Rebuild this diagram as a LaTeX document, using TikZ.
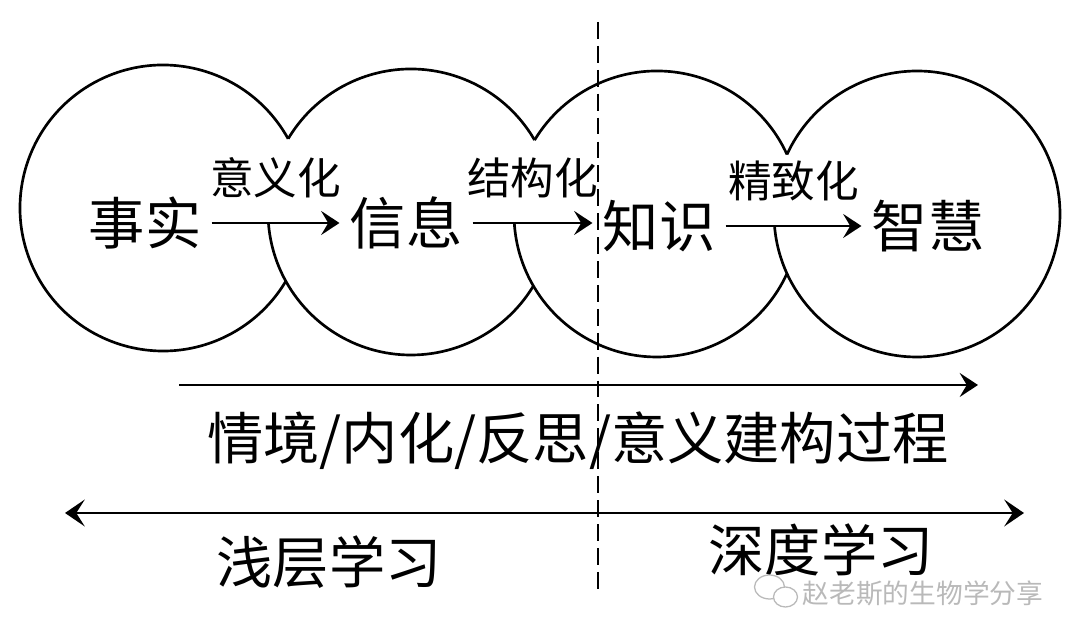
\documentclass[tikz,border=0pt]{standalone}
\usepackage{fontspec}
\setmainfont{Noto Sans CJK SC}
\usetikzlibrary{arrows.meta}

\begin{document}
\begin{tikzpicture}[x=0.025cm, y=0.025cm,
    stage/.style={inner xsep=0.25cm, inner ysep=0pt, font=\fontsize{40}{48}\selectfont},
    step label/.style={above=0.6cm, inner sep=0pt, font=\fontsize{31}{37}\selectfont},
    level text/.style={inner sep=0pt, font=\fontsize{40}{48}\selectfont},
    ring/.style={line width=1.9pt},
    flow/.style={-{Stealth[length=13pt, width=17pt, inset=5pt]}, line width=2pt},
    span/.style={{Stealth[length=14pt, width=19pt, inset=6pt]}-{Stealth[length=14pt, width=19pt, inset=6pt]}, line width=2pt},
    divider/.style={line width=1.7pt, dash pattern=on 12pt off 5pt},
    mark text/.style={inner sep=0pt, text=gray!55, font=\fontsize{19}{23}\selectfont}
]
\useasboundingbox (0,0) rectangle (1080,636);

% circle centres
\coordinate (c1) at (163,428);
\coordinate (c2) at (411,424);
\coordinate (c3) at (657,422);
\coordinate (c4) at (917,422);

% circles, only the visible arcs
\draw[ring] ([shift={(28.95:143)}]c1) arc[start angle=28.95, end angle=329.2, radius=143];
\draw[ring] ([shift={(184.4:143)}]c2) arc[start angle=184.4, end angle=328.9, radius=143];
\draw[ring] ([shift={(30.2:143)}]c2) arc[start angle=30.2, end angle=149.2, radius=143];
\draw[ring] ([shift={(183.6:143)}]c3) arc[start angle=183.6, end angle=335.4, radius=143];
\draw[ring] ([shift={(24.6:143)}]c3) arc[start angle=24.6, end angle=148.9, radius=143];
\draw[ring] ([shift={(184.8:143)}]c4) arc[start angle=184.8, end angle=515.4, radius=143];

% stages
\node[stage] (fact) at (145,413) {事实};
\node[stage] (info) at (406,413) {信息};
\node[stage] (know) at (659,410) {知识};
\node[stage] (wisdom) at (928,410) {智慧};

\draw[flow] (fact) -- node[step label] {意义化} (fact -| info.west);
\draw[flow] (info) -- node[step label] {结构化} (info -| know.west);
\draw[flow] (know) -- node[step label] {精致化} (know -| wisdom.west);

% divider
\coordinate (div top) at (598,614);
\coordinate (div bottom) at (598,46);
\draw[divider] (div top) -- (div bottom);

% process arrow
\coordinate (proc start) at (179,251);
\coordinate (proc end) at (978,251);
\draw[flow] (proc start) -- (proc end);
\node[level text] (process) at (578,195) {情境/内化/反思/意义建构过程};

% depth arrow
\coordinate (depth left) at (65,123);
\coordinate (depth right) at (1024,123);
\draw[span] (depth left) -- (depth right);
\node[level text] (shallow) at (329,74) {浅层学习};
\node[level text] (deep) at (821,86) {深度学习};

% watermark
\node[mark text] (mark) at (923,43) {赵老斯的生物学分享};
\draw[gray!55, line width=0.9pt, fill=white] ([shift={(-33,6)}]mark.west) ellipse[x radius=15, y radius=12];
\draw[gray!55, line width=0.9pt, fill=white] ([shift={(-17,-4)}]mark.west) ellipse[x radius=12, y radius=10];

\end{tikzpicture}
\end{document}
